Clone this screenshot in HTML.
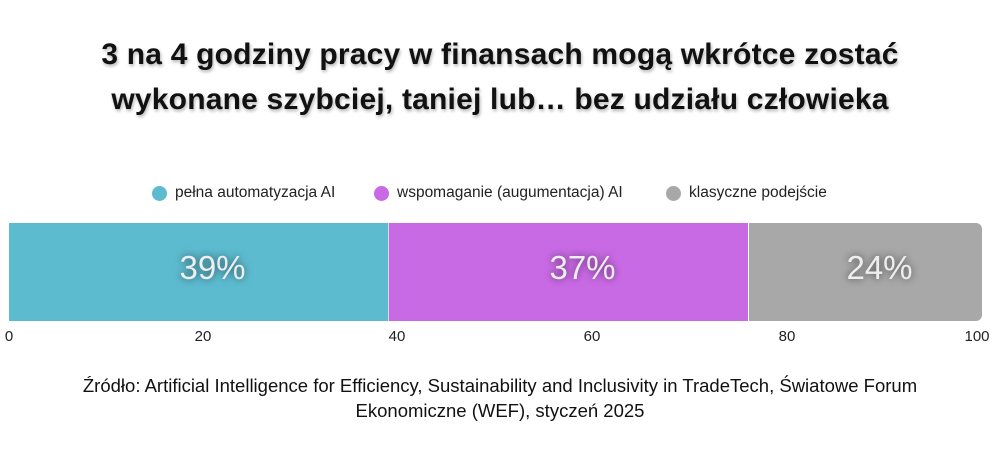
<!DOCTYPE html>
<html><head><meta charset="utf-8"><style>
body{margin:0;width:1000px;height:450px;background:#fff;font-family:"Liberation Sans",sans-serif;position:relative;overflow:hidden}
.t{position:absolute;left:0;width:1000px;text-align:center;font-weight:bold;font-size:30px;letter-spacing:0.2px;color:#111;text-shadow:1px 2px 3px rgba(0,0,0,0.3)}
.lg{position:absolute;top:184px;font-size:15.5px;color:#222;display:flex;align-items:center}
.lg i{display:inline-block;width:15px;height:15px;border-radius:50%;margin-right:8px}
.seg{position:absolute;top:223px;height:98px;display:flex;align-items:center;justify-content:center;color:#eee;font-size:33px;text-shadow:0 0 8px rgba(0,0,0,0.6);box-sizing:border-box;padding-left:28px;padding-bottom:8px}
.tk{position:absolute;top:328px;font-size:15px;color:#222;width:40px;margin-left:-20px;text-align:center}
.src{position:absolute;left:0;width:1000px;text-align:center;font-size:18.5px;color:#111;line-height:25px;top:373px}
</style></head><body>
<div class="t" style="top:38px">3 na 4 godziny pracy w finansach mogą wkrótce zostać</div>
<div class="t" style="top:83px">wykonane szybciej, taniej lub… bez udziału człowieka</div>
<div class="lg" style="left:152px"><i style="background:#5dbbd0"></i>pełna automatyzacja AI</div>
<div class="lg" style="left:374px"><i style="background:#c96ae5"></i>wspomaganie (augumentacja) AI</div>
<div class="lg" style="left:666px"><i style="background:#a8a8a8"></i>klasyczne podejście</div>
<div class="seg" style="left:9px;width:379px;background:#5dbbd0">39%</div>
<div class="seg" style="left:388px;width:360px;background:#c96ae5;border-left:1px solid #ddd">37%</div>
<div class="seg" style="left:749px;width:233px;background:#a8a8a8;border-radius:0 6px 6px 0">24%</div>
<div class="tk" style="left:9px">0</div>
<div class="tk" style="left:203px">20</div>
<div class="tk" style="left:397px">40</div>
<div class="tk" style="left:592px">60</div>
<div class="tk" style="left:787px">80</div>
<div class="tk" style="left:977px">100</div>
<div class="src">Źródło: Artificial Intelligence for Efficiency, Sustainability and Inclusivity in TradeTech, Światowe Forum<br>Ekonomiczne (WEF), styczeń 2025</div>
</body></html>
